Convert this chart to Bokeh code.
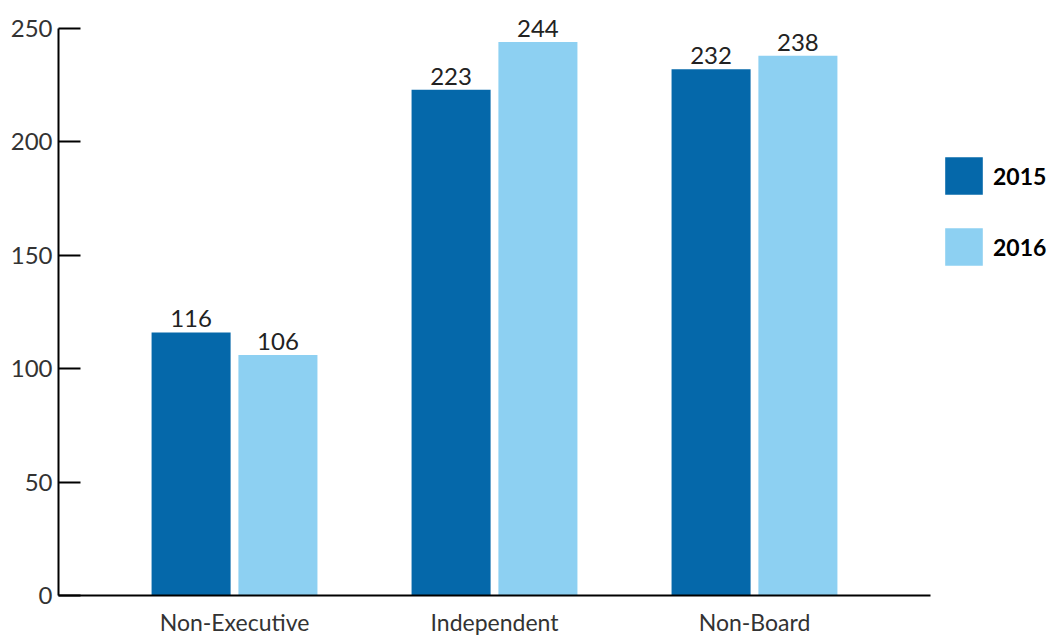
from bokeh.plotting import figure
from bokeh.models import ColumnDataSource, FactorRange, Range1d, Legend, LegendItem, LabelSet
from bokeh.core.properties import value
from bokeh.transform import dodge
from bokeh.embed import file_html
from bokeh.resources import INLINE

categories = ["Non-Executive", "Independent", "Non-Board"]
values_2015 = [116, 223, 232]
values_2016 = [106, 244, 238]
series_names = ["2015", "2016"]
y_ticks = [0, 50, 100, 150, 200, 250]

c2015 = "#0568AA"
c2016 = "#8DD0F2"
FONT = "Lato"

src = ColumnDataSource(data=dict(
    cat=categories, v15=values_2015, v16=values_2016,
    t15=[str(v) for v in values_2015], t16=[str(v) for v in values_2016],
))

# y range extends a little above the last tick so the top value label is not clipped
p = figure(output_backend="svg", toolbar_location=None,
           frame_width=872, frame_height=595,
           x_range=FactorRange(factors=categories, range_padding=0.118, range_padding_units="percent"),
           y_range=Range1d(0, 262.35),
           min_border_left=58, min_border_right=0, min_border_top=0, min_border_bottom=41)
p.outline_line_color = None
p.grid.visible = False
p.background_fill_color = "white"

r1 = p.vbar(x=dodge("cat", -0.167, range=p.x_range), top="v15", width=0.304, source=src,
            fill_color=c2015, line_color=None)
r2 = p.vbar(x=dodge("cat", 0.167, range=p.x_range), top="v16", width=0.304, source=src,
            fill_color=c2016, line_color=None)

for tcol, vcol, off in (("t15", "v15", -0.167), ("t16", "v16", 0.167)):
    lab = LabelSet(x=dodge("cat", off, range=p.x_range), y=vcol, text=tcol,
                   source=src, text_align="center", text_baseline="alphabetic", y_offset=5,
                   text_font=value(FONT), text_font_size="24px", text_color="#222222")
    p.add_layout(lab)

# axes
p.yaxis.ticker = y_ticks
p.yaxis.bounds = (0, 250)
p.yaxis.axis_line_color = "black"
p.yaxis.axis_line_width = 2
p.yaxis.major_tick_line_color = "black"
p.yaxis.major_tick_line_width = 2
p.yaxis.major_tick_in = 22
p.yaxis.major_tick_out = 0
p.yaxis.minor_tick_line_color = None
p.yaxis.major_label_standoff = 6
p.yaxis.major_label_text_font = FONT
p.yaxis.major_label_text_font_size = "24px"
p.yaxis.major_label_text_color = "#333333"

p.xaxis.axis_line_color = "black"
p.xaxis.axis_line_width = 2
p.xaxis.major_tick_line_color = None
p.xaxis.major_tick_in = 0
p.xaxis.major_tick_out = 0
p.xaxis.major_label_standoff = 12
p.xaxis.major_label_text_font = FONT
p.xaxis.major_label_text_font_size = "23px"
p.xaxis.major_label_text_color = "#333333"

legend = Legend(items=[LegendItem(label=series_names[0], renderers=[r1]),
                       LegendItem(label=series_names[1], renderers=[r2])],
                location="top_left", orientation="vertical",
                title=" ", title_text_font_size="10px", title_standoff=131,
                glyph_width=47, glyph_height=47, spacing=24, label_standoff=6,
                padding=0, margin=10, border_line_color=None, background_fill_alpha=0,
                label_text_font=FONT, label_text_font_size="23px", label_text_font_style="bold",
                label_text_color="black", label_height=47)
p.add_layout(legend, "right")

open("out.html", "w").write(file_html(p, INLINE))
